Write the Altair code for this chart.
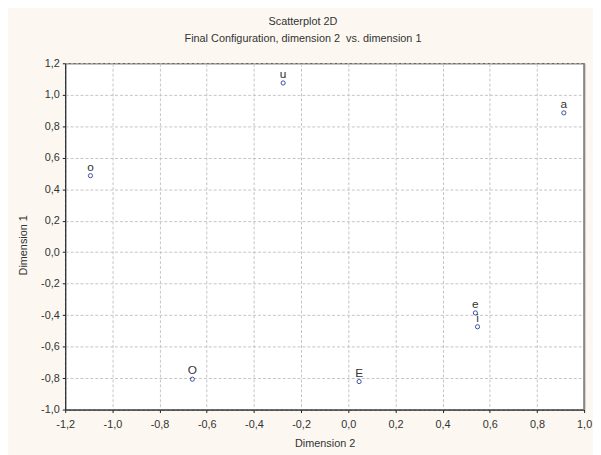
import altair as alt
import pandas as pd

labels = ["u", "a", "o", "e", "i", "O", "E"]
dim2 = [-0.276, 0.914, -1.093, 0.539, 0.548, -0.661, 0.046]
dim1 = [1.075, 0.885, 0.486, -0.386, -0.474, -0.807, -0.822]
x_ticks = [-1.2, -1.0, -0.8, -0.6, -0.4, -0.2, 0.0, 0.2, 0.4, 0.6, 0.8, 1.0]
y_ticks = [-1.0, -0.8, -0.6, -0.4, -0.2, 0.0, 0.2, 0.4, 0.6, 0.8, 1.0, 1.2]

df = pd.DataFrame({"label": labels, "dim2": dim2, "dim1": dim1})

fmt = "replace(replace(format(datum.value, '.1f'), '.', ','), '\u2212', '-')"
font = "Liberation Sans"

common = dict(labelExpr=fmt, grid=True, gridDash=[3, 2], gridColor="#c4c4c4",
              domainColor="#222", tickColor="#222", tickSize=3, labelFontSize=11,
              labelColor="#333", labelFont=font, titleFont=font, titleFontSize=11,
              titleFontWeight="normal", titleColor="#333", labelOverlap=False,
              labelBound=False, labelFlush=False)

xscale = alt.Scale(domain=[-1.2, 1.0], nice=False, zero=False)
xaxis = alt.Axis(values=x_ticks, titlePadding=8, labelPadding=6, **common)
x = alt.X("dim2:Q", title="Dimension 2", scale=xscale, axis=xaxis)
y = alt.Y("dim1:Q", title="Dimension 1",
          scale=alt.Scale(domain=[-1.0, 1.2], nice=False, zero=False),
          axis=alt.Axis(values=y_ticks, titlePadding=12, titleY=184, labelPadding=3,
                        **common))

base = alt.Chart(df)
pts = base.mark_point(shape="circle", filled=False, size=18, strokeWidth=1,
                      color="#3a4ea6", opacity=1).encode(x=x, y=y)
txt = base.mark_text(dy=-9, fontSize=12, font=font, color="#333",
                     align="center", baseline="middle").encode(
    x=x, y=y, text="label:N")
right = alt.Chart(pd.DataFrame({"v": [x_ticks[-1]]})).mark_rule(
    color="#888", strokeWidth=2).encode(
    x=alt.X("v:Q", title="Dimension 2", scale=xscale, axis=xaxis))

chart = alt.layer(pts, txt, right).properties(
    width=526, height=351,
    autosize=alt.AutoSizeParams(type="none"),
    padding={"left": 58, "top": 53, "right": 9, "bottom": 43},
    background="#fcf8f1",
    title=alt.TitleParams(text="Scatterplot 2D",
                          subtitle="Final Configuration, dimension 2\u00a0\u00a0vs. dimension 1",
                          anchor="middle", frame="group", dx=-22, offset=14,
                          font=font, fontSize=11, fontWeight="normal", color="#333",
                          subtitleFont=font, subtitleFontSize=11, subtitleColor="#333",
                          subtitlePadding=6),
).configure_view(stroke="#222", strokeWidth=1, fill="white").configure_axis(
    labelOverlap=False)

chart.save("out.html", embed_options={"renderer": "svg", "actions": False})
